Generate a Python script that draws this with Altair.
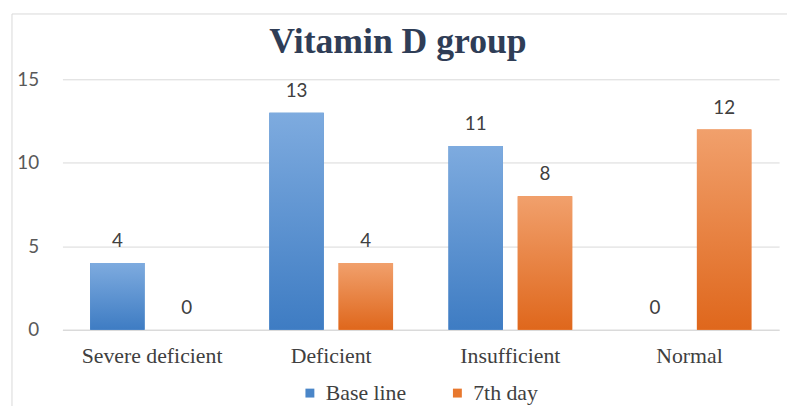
import altair as alt
import pandas as pd

categories = ["Severe deficient", "Deficient", "Insufficient", "Normal"]
series = ["Base line", "7th day"]
baseline_vals = [4, 13, 11, 0]
day7_vals = [0, 4, 8, 12]

rows = []
for c, b, d in zip(categories, baseline_vals, day7_vals):
    rows.append({"category": c, "series": series[0], "value": b})
    rows.append({"category": c, "series": series[1], "value": d})
df = pd.DataFrame(rows)

BLUE = "#4a86c8"
ORANGE = "#e8782e"
SERIF = "Liberation Serif"
SANS = "Lato"

blue_grad = alt.LinearGradient(
    gradient="linear", x1=0, x2=0, y1=0, y2=1,
    stops=[alt.GradientStop(color="#7eabdf", offset=0),
           alt.GradientStop(color="#3e7cc3", offset=1)])
orange_grad = alt.LinearGradient(
    gradient="linear", x1=0, x2=0, y1=0, y2=1,
    stops=[alt.GradientStop(color="#f1a06c", offset=0),
           alt.GradientStop(color="#df671c", offset=1)])

base = alt.Chart(df).encode(
    x=alt.X("category:N", sort=categories,
            scale=alt.Scale(paddingInner=0, paddingOuter=0),
            axis=alt.Axis(title=None, labelAngle=0, ticks=False, domain=True,
                          domainColor="#d9d9d9", labelFont=SERIF, labelFontSize=22,
                          labelColor="#404040", labelPadding=16, grid=False)),
    xOffset=alt.XOffset("series:N", sort=series,
                        scale=alt.Scale(domain=series, paddingInner=0.214, paddingOuter=0.4)),
    y=alt.Y("value:Q", scale=alt.Scale(domain=[0, 15], nice=False),
            axis=alt.Axis(title=None, values=[0, 5, 10, 15], grid=True, gridColor="#d9d9d9",
                          domain=False, ticks=False, labelFont=SANS, labelFontSize=19,
                          labelColor="#595959", labelPadding=24)),
)

legend_bars = base.mark_bar().encode(
    color=alt.Color("series:N", sort=series,
                    scale=alt.Scale(domain=series, range=[BLUE, ORANGE]),
                    legend=alt.Legend(title=None, orient="none", direction="horizontal",
                                      legendX=239, legendY=306, symbolType="square",
                                      symbolSize=81, symbolStrokeWidth=0,
                                      labelFont=SERIF, labelFontSize=22, labelColor="#404040",
                                      labelOffset=5, columnPadding=40, padding=0))
)

bars_base = base.transform_filter(alt.datum.series == series[0]).mark_bar(color=blue_grad)
bars_7 = base.transform_filter(alt.datum.series == series[1]).mark_bar(color=orange_grad)

labels = base.mark_text(dy=-16, baseline="alphabetic", font=SANS, fontSize=19,
                        color="#404040").encode(text="value:Q")

frame = alt.Chart(pd.DataFrame({"k": [0]})).mark_rect(
    fill="transparent", stroke="#d9d9d9", strokeWidth=1).encode(
    x=alt.value(-51), x2=alt.value(800), y=alt.value(-66), y2=alt.value(400))

chart = alt.layer(frame, legend_bars, bars_base, bars_7, labels).properties(
    width=724, height=253,
    title=alt.TitleParams("Vitamin D group", font=SERIF, fontSize=36, fontWeight="bold",
                          color="#2f3d56", anchor="middle", frame="group", dx=-23,
                          baseline="alphabetic", offset=-76),
    autosize=alt.AutoSizeParams(type="none"),
    padding={"left": 55, "top": 70, "right": 8, "bottom": 75},
).configure_view(stroke=None)

chart.save("out.html", embed_options={"renderer": "svg", "actions": False})
